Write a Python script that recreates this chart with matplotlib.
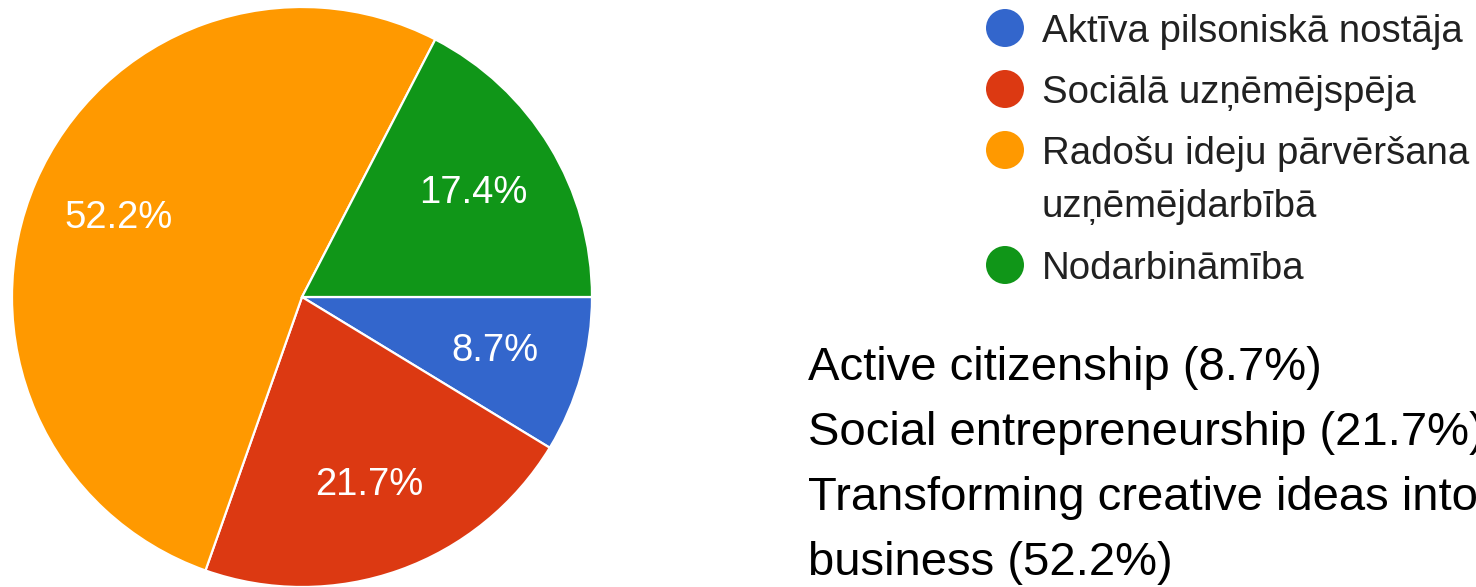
import matplotlib
matplotlib.use("Agg")
import matplotlib.pyplot as plt

plt.rcParams["font.family"] = ["Liberation Sans", "DejaVu Sans"]

# data
categories = [
    "Aktīva pilsoniskā nostāja",
    "Sociālā uzņēmējspēja",
    "Radošu ideju pārvēršana\nuzņēmējdarbībā",
    "Nodarbināmība",
]
shares = [8.7, 21.7, 52.2, 17.4]
colors = ["#3366CC", "#DC3912", "#FF9900", "#109618"]
english_lines = [
    "Active citizenship (8.7%)",
    "Social entrepreneurship (21.7%)",
    "Transforming creative ideas into",
    "business (52.2%)",
]

W, H = 1476, 587
fig = plt.figure(figsize=(W / 100, H / 100), dpi=100)

# pie, centre at (302, 297) px, radius 290 px
cx, cy, r = 302, 297, 290
ax = fig.add_axes([(cx - r) / W, (H - cy - r) / H, 2 * r / W, 2 * r / H])
wedges, texts, autotexts = ax.pie(
    shares,
    colors=colors,
    startangle=0,
    counterclock=False,
    autopct="%.1f%%",
    pctdistance=0.69,
    radius=1.0,
    wedgeprops=dict(edgecolor="white", linewidth=1.6),
    textprops=dict(color="white", fontsize=27.5),
)
ax.set_xlim(-1, 1)
ax.set_ylim(-1, 1)
ax.set_aspect("equal")
ax.axis("off")

# overlay in pixel coordinates for the legend and notes
ov = fig.add_axes([0, 0, 1, 1])
ov.set_xlim(0, W)
ov.set_ylim(H, 0)
ov.axis("off")
ov.patch.set_alpha(0)

row_y = [28, 89, 150, 265]
marker_pt = 38 * 72 / 100
for label, col, y in zip(categories, colors, row_y):
    ov.scatter([1005], [y], s=marker_pt ** 2, color=col, edgecolors="none")
    lines = label.split("\n")
    for k, line in enumerate(lines):
        ov.text(1042, y + 14 + 53 * k, line, fontsize=27.6, color="#212121",
                va="baseline", ha="left")

for k, line in enumerate(english_lines):
    ov.text(808, 380 + 65 * k, line, fontsize=34, color="black",
            va="baseline", ha="left")

fig.savefig("out.png", dpi=100, facecolor="white")
